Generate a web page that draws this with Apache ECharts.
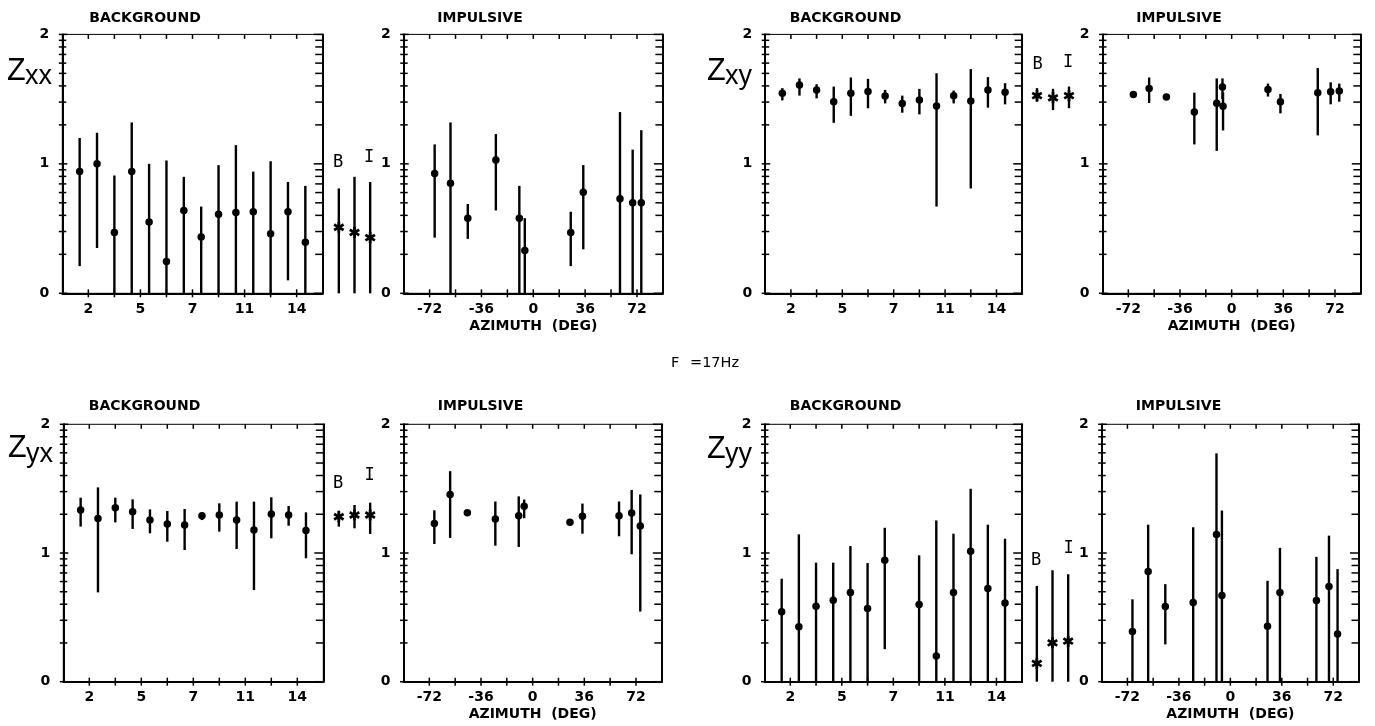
<!DOCTYPE html>
<html><head><meta charset="utf-8">
<script src="https://cdn.jsdelivr.net/npm/echarts@6/dist/echarts.min.js"></script>
<style>html,body{margin:0;padding:0;background:#fff}#c{width:1375px;height:726px}</style>
</head><body><div id="c"></div>
<script>
// ===== DATA (values are log10) =====
const bgSlots = [1,2,3,4,5,6,7,8,9,10,11,12,13,14];
const biSlots = [0.5,1.5,2.5];
const bgTickLabels = ['', '2', '', '5', '', '7', '', '11', '', '14', ''];
const impTickLabels = ['-72', '-36', '0', '36', '72'];
const yTickLabels = ['0', '1', '2'];

const impAzimuth   = [-68.5,-57.5,-45.5,-26,-9.7,-5.9,26,34.7,60.2,69,75];
const xyImpAzimuth = [-68.5,-57.5,-45.5,-26,-10.4,-6.4,-6.0,25.3,34.0,60,69,75];

// Zxx
const zxxBgVal  = [0.94,1.00,0.47,0.94,0.55,0.245,0.64,0.435,0.61,0.625,0.63,0.46,0.63,0.395];
const zxxBgLow  = [0.21,0.35,0,0,0,0,0,0,0,0,0,0,0.10,0];
const zxxBgHigh = [1.20,1.24,0.91,1.32,1.00,1.026,0.90,0.67,0.99,1.145,0.94,1.02,0.86,0.83];
const zxxBiVal  = [0.51,0.47,0.43];
const zxxBiLow  = [0,0,0];
const zxxBiHigh = [0.81,0.90,0.86];
const zxxImpVal  = [0.925,0.85,0.58,1.03,0.58,0.33,0.47,0.78,0.73,0.70,0.70];
const zxxImpLow  = [0.43,0,0.42,0.64,0,0,0.21,0.34,0,0,0];
const zxxImpHigh = [1.15,1.32,0.69,1.23,0.83,0.58,0.63,0.99,1.40,1.11,1.26];

// Zxy
const zxyBgVal  = [1.545,1.61,1.571,1.48,1.545,1.558,1.525,1.467,1.494,1.447,1.527,1.486,1.571,1.553];
const zxyBgLow  = [1.49,1.527,1.506,1.317,1.371,1.429,1.467,1.395,1.382,0.67,1.467,0.81,1.434,1.46];
const zxyBgHigh = [1.585,1.66,1.615,1.597,1.667,1.657,1.571,1.527,1.579,1.70,1.566,1.732,1.67,1.623];
const zxyBiVal  = [1.527,1.51,1.527];
const zxyBiLow  = [1.48,1.415,1.43];
const zxyBiHigh = [1.585,1.58,1.597];
const zxyImpVal  = [1.536,1.583,1.516,1.40,1.468,1.594,1.445,1.575,1.48,1.55,1.557,1.563];
const zxyImpLow  = [1.51,1.47,1.50,1.15,1.10,1.50,1.258,1.52,1.39,1.22,1.46,1.48];
const zxyImpHigh = [1.56,1.667,1.535,1.55,1.66,1.66,1.55,1.62,1.54,1.74,1.63,1.62];

// Zyx
const zyxBgVal  = [1.334,1.269,1.352,1.321,1.256,1.225,1.218,1.29,1.295,1.256,1.179,1.303,1.295,1.174];
const zyxBgLow  = [1.205,0.694,1.238,1.187,1.153,1.088,1.023,1.256,1.166,1.031,0.712,1.114,1.212,0.959];
const zyxBgHigh = [1.43,1.51,1.43,1.417,1.339,1.326,1.342,1.313,1.386,1.399,1.399,1.433,1.365,1.316];
const zyxBiVal  = [1.282,1.295,1.295];
const zyxBiLow  = [1.205,1.192,1.148];
const zyxBiHigh = [1.329,1.373,1.391];
const zyxImpVal  = [1.229,1.455,1.312,1.265,1.29,1.364,1.239,1.286,1.29,1.31,1.21];
const zyxImpLow  = [1.07,1.117,1.29,1.057,1.047,1.27,1.22,1.15,1.13,0.99,0.545];
const zyxImpHigh = [1.332,1.636,1.33,1.40,1.44,1.415,1.26,1.384,1.40,1.49,1.455];

// Zyy
const zyyBgVal  = [0.543,0.426,0.587,0.633,0.693,0.568,0.943,null,0.60,0.20,0.693,1.013,0.724,0.612];
const zyyBgLow  = [0,0,0,0,0,0,0.253,null,0,0,0,0,0,0];
const zyyBgHigh = [0.80,1.145,0.925,0.925,1.054,0.922,1.196,null,0.982,1.253,1.15,1.499,1.22,1.111];
const zyyBiVal  = [0.142,0.302,0.315];
const zyyBiLow  = [0,0,0];
const zyyBiHigh = [0.744,0.866,0.835];
const zyyImpVal  = [0.39,0.857,0.584,0.616,1.143,0.67,0.43,0.694,0.63,0.74,0.37];
const zyyImpLow  = [0,0,0.29,0,0,0,0,0,0,0,0];
const zyyImpHigh = [0.64,1.22,0.758,1.20,1.774,1.33,0.784,1.04,0.97,1.135,0.875];

// ===== LAYOUT =====
const rows = [{t:34.4, h:258.9}, {t:424.3, h:257.4}];
const panels = [
  {row:0, sub:'xx', zx:7, zy:72, sy:76.6,
   bg:{l:62.3,w:260.4}, bi:{l:331,w:47}, imp:{l:403.7,w:259.2},
   tBg:145, tImp:480, B:[338,162.5], I:[369,157.5],
   bgD:[zxxBgVal,zxxBgLow,zxxBgHigh], biD:[zxxBiVal,zxxBiLow,zxxBiHigh], impD:[impAzimuth,zxxImpVal,zxxImpLow,zxxImpHigh]},
  {row:0, sub:'xy', zx:707, zy:72, sy:76.6,
   bg:{l:765.2,w:257}, bi:{l:1029,w:48}, imp:{l:1102.5,w:258.3},
   tBg:845.5, tImp:1179, B:[1037.5,65], I:[1068,63],
   bgD:[zxyBgVal,zxyBgLow,zxyBgHigh], biD:[zxyBiVal,zxyBiLow,zxyBiHigh], impD:[xyImpAzimuth,zxyImpVal,zxyImpLow,zxyImpHigh]},
  {row:1, sub:'yx', zx:8, zy:449, sy:454.7,
   bg:{l:63.3,w:260}, bi:{l:331,w:47}, imp:{l:403.5,w:258.3},
   tBg:144.5, tImp:480.5, B:[338,484], I:[369.5,476],
   bgD:[zyxBgVal,zyxBgLow,zyxBgHigh], biD:[zyxBiVal,zyxBiLow,zyxBiHigh], impD:[impAzimuth,zyxImpVal,zyxImpLow,zyxImpHigh]},
  {row:1, sub:'yy', zx:707, zy:450, sy:454.7,
   bg:{l:764.5,w:257.7}, bi:{l:1029,w:47}, imp:{l:1101.7,w:257.3},
   tBg:845.5, tImp:1178.5, B:[1036,560.5], I:[1068.5,549],
   bgD:[zyyBgVal,zyyBgLow,zyyBgHigh], biD:[zyyBiVal,zyyBiLow,zyyBiHigh], impD:[impAzimuth,zyyImpVal,zyyImpLow,zyyImpHigh]}
];

// axis tick positions (log decade ticks)
const yMajor = [0,1,2];
const yMinor = [];
for (let d = 0; d < 2; d++) for (let k = 2; k <= 9; k++) yMinor.push(d + Math.log10(k));

// asterisk symbol
function asteriskPath(R, w) {
  const pts = [];
  for (let i = 0; i < 6; i++) {
    const a = Math.PI/2 + i*Math.PI/3, ca = Math.cos(a), sa = Math.sin(a);
    const px = -sa*w/2, py = ca*w/2;
    pts.push([R*ca - px, R*sa - py]);
    pts.push([R*ca + px, R*sa + py]);
    const b = a + Math.PI/6;
    pts.push([w*Math.cos(b), w*Math.sin(b)]);
  }
  return 'path://M' + pts.map(p => p[0].toFixed(3) + ',' + p[1].toFixed(3)).join(' L') + ' Z';
}
const STAR = asteriskPath(5, 2.5);

const FONT = '"DejaVu Sans", sans-serif';
const grids = [], xAxes = [], yAxes = [], series = [], graphics = [];

function tickRender(params, api) {
  const cs = params.coordSys;
  const kind = api.value(2), major = api.value(3);
  const p = api.coord([api.value(0), api.value(1)]);
  let shape;
  if (kind === 0) shape = {x1: cs.x - 3.5, y1: p[1], x2: cs.x + (major ? 5 : 4), y2: p[1]};
  else if (kind === 1) shape = {x1: cs.x + cs.width - (major ? 9 : 7.5), y1: p[1], x2: cs.x + cs.width, y2: p[1]};
  else if (kind === 2) shape = {x1: p[0], y1: cs.y, x2: p[0], y2: cs.y + 4.5};
  else shape = {x1: p[0], y1: cs.y + cs.height - 4, x2: p[0], y2: cs.y + cs.height + 4};
  return {type: 'line', shape, style: {stroke: '#000', lineWidth: 1.5}};
}
function barRender(params, api) {
  const a = api.coord([api.value(0), api.value(1)]);
  const b = api.coord([api.value(0), api.value(2)]);
  return {type: 'line', shape: {x1: a[0], y1: a[1], x2: b[0], y2: b[1]}, style: {stroke: '#000', lineWidth: 2.4}};
}

function addMain(rect, row, kind, xs, vals, lows, highs) {
  const gi = grids.length;
  grids.push({left: rect.l, top: row.t, width: rect.w, height: row.h, show: true,
    borderColor: '#000', borderWidth: 1, backgroundColor: 'transparent', outerBoundsMode: 'none'});
  const isBg = kind === 'bg';
  const xi = xAxes.length;
  const xa = {gridIndex: gi, type: 'value', position: 'bottom',
    min: isBg ? 0 : -90, max: isBg ? 15 : 90, interval: isBg ? 1.5 : 18,
    axisLine: {show: true, onZero: false, lineStyle: {color: '#000', width: 2}},
    axisTick: {show: false}, splitLine: {show: false},
    axisLabel: {show: true, margin: 9, color: '#000', fontFamily: FONT, fontWeight: 'bold', fontSize: 14,
      showMinLabel: true, showMaxLabel: true,
      formatter: isBg ? (v => bgTickLabels[Math.round(v / 1.5)] || '')
                      : (v => impTickLabels.indexOf(String(Math.round(v))) >= 0 ? String(Math.round(v)) : '')}};
  if (!isBg) {
    xa.name = 'AZIMUTH  (DEG)'; xa.nameLocation = 'middle'; xa.nameGap = 26;
    xa.nameTextStyle = {color: '#000', fontFamily: FONT, fontWeight: 'bold', fontSize: 14, verticalAlign: 'top'};
  }
  xAxes.push(xa);
  const yi = yAxes.length;
  yAxes.push({gridIndex: gi, type: 'value', position: 'left', min: 0, max: 2, interval: 1,
    axisLine: {show: true, onZero: false, lineStyle: {color: '#000', width: 2}},
    axisTick: {show: false}, splitLine: {show: false},
    axisLabel: {margin: 13, color: '#000', fontFamily: FONT, fontWeight: 'bold', fontSize: 14,
      formatter: v => yTickLabels[Math.round(v)]}});
  yAxes.push({gridIndex: gi, type: 'value', position: 'right', min: 0, max: 2, interval: 1,
    axisLine: {show: true, onZero: false, lineStyle: {color: '#000', width: 2}},
    axisTick: {show: false}, splitLine: {show: false}, axisLabel: {show: false}});
  // ticks
  const ticks = [];
  const xmin = isBg ? 0 : -90;
  yMajor.forEach(v => { ticks.push([xmin, v, 0, 1]); ticks.push([xmin, v, 1, 1]); });
  yMinor.forEach(v => { ticks.push([xmin, v, 0, 0]); ticks.push([xmin, v, 1, 0]); });
  const step = isBg ? 1.5 : 18;
  for (let k = 1; k < 10; k++) {
    const xv = xmin + k * step;
    ticks.push([xv, 0, 2, 0]); ticks.push([xv, 0, 3, 0]);
  }
  series.push({type: 'custom', xAxisIndex: xi, yAxisIndex: yi, renderItem: tickRender, data: ticks,
    clip: false, silent: true, z: 3, encode: {x: 0, y: 1}});
  const bars = [], pts = [];
  xs.forEach((x, k) => {
    if (vals[k] == null) return;
    bars.push([x, lows[k], highs[k]]);
    pts.push([x, vals[k]]);
  });
  series.push({type: 'custom', xAxisIndex: xi, yAxisIndex: yi, renderItem: barRender, data: bars,
    clip: false, silent: true, z: 4, encode: {x: 0, y: [1, 2]}});
  series.push({type: 'scatter', xAxisIndex: xi, yAxisIndex: yi, data: pts, symbol: 'circle', symbolSize: 7.5,
    itemStyle: {color: '#000', opacity: 1}, silent: true, z: 5});
}

function addBI(rect, row, vals, lows, highs) {
  const gi = grids.length;
  grids.push({left: rect.l, top: row.t, width: rect.w, height: row.h, show: false, outerBoundsMode: 'none'});
  const xi = xAxes.length;
  xAxes.push({gridIndex: gi, type: 'value', min: 0, max: 3, show: false});
  const yi = yAxes.length;
  yAxes.push({gridIndex: gi, type: 'value', min: 0, max: 2, show: false});
  series.push({type: 'custom', xAxisIndex: xi, yAxisIndex: yi, renderItem: barRender,
    data: biSlots.map((x, k) => [x, lows[k], highs[k]]), clip: false, silent: true, z: 4, encode: {x: 0, y: [1, 2]}});
  series.push({type: 'scatter', xAxisIndex: xi, yAxisIndex: yi, data: biSlots.map((x, k) => [x, vals[k]]),
    symbol: STAR, symbolKeepAspect: true, symbolSize: 11, itemStyle: {color: '#000', opacity: 1}, silent: true, z: 5});
}

function txt(text, x, y, font, align) {
  graphics.push({type: 'text', x, y, silent: true, z: 10,
    style: {text, font, fill: '#000', align: align || 'center', verticalAlign: 'middle',
      textAlign: align || 'center', textVerticalAlign: 'middle'}});
}

panels.forEach(p => {
  const row = rows[p.row];
  addMain(p.bg, row, 'bg', bgSlots, p.bgD[0], p.bgD[1], p.bgD[2]);
  addBI(p.bi, row, p.biD[0], p.biD[1], p.biD[2]);
  addMain(p.imp, row, 'imp', p.impD[0], p.impD[1], p.impD[2], p.impD[3]);
  const ty = p.row === 0 ? 18 : 406;
  txt('BACKGROUND', p.tBg, ty, 'bold 14px "DejaVu Sans"');
  txt('IMPULSIVE', p.tImp, ty, 'bold 14px "DejaVu Sans"');
  txt('B', p.B[0], p.B[1], '17px "DejaVu Sans Mono"');
  txt('I', p.I[0], p.I[1], '17px "DejaVu Sans Mono"');
  txt('Z', p.zx, p.zy, '30.5px "Liberation Sans"', 'left');
  txt(p.sub, p.zx + 18, p.sy, '27px "Liberation Sans"', 'left');
});
txt('F', 671, 363, '14.5px "DejaVu Sans"', 'left');
txt('=17Hz', 690, 363, '14.5px "DejaVu Sans"', 'left');

const chart = echarts.init(document.getElementById('c'), null, {renderer: 'canvas'});
chart.setOption({
  animation: false,
  backgroundColor: '#fff',
  grid: grids, xAxis: xAxes, yAxis: yAxes, series: series,
  graphic: {elements: graphics}
});
</script></body></html>
